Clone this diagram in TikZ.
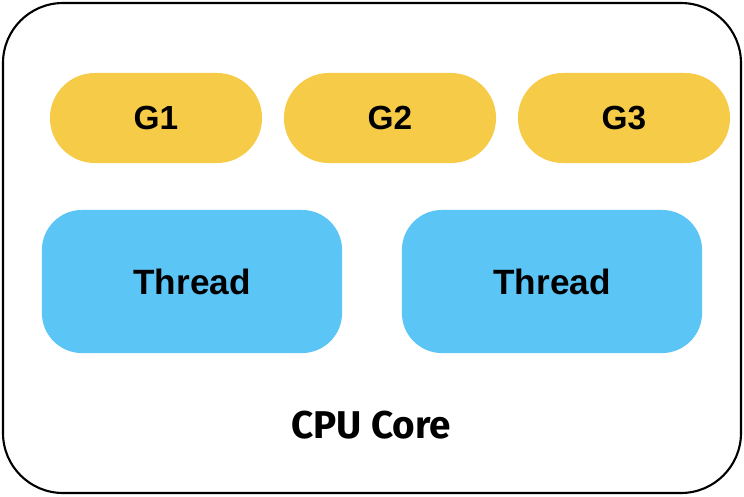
\documentclass[tikz,border=0pt]{standalone}
\usepackage{fontspec}
\setmainfont{Liberation Sans}
\newfontfamily\labelfont{Fira Sans}
\usepackage{tikz}
\definecolor{gold}{HTML}{F6CB47}
\definecolor{sky}{HTML}{5BC5F5}
\tikzset{gbox/.style={fill=gold, rounded corners=0.45cm, minimum width=2.12cm,
    minimum height=0.9cm, font=\fontsize{9.5}{11}\selectfont\bfseries},
  threadbox/.style={fill=sky, rounded corners=0.4cm, minimum width=3cm,
    minimum height=1.43cm, font=\fontsize{10}{12}\selectfont\bfseries}
}

\begin{document}
\begin{tikzpicture}[x=0.01cm, y=-0.01cm]
      \useasboundingbox (0,0) rectangle (744,496);
      \draw[line width=0.6pt, rounded corners=0.6cm] (3,3) rectangle (741,493);
      \node[gbox] (g1) at (156,118) {G1};
      \node[gbox] (g2) at (390,118) {G2};
      \node[gbox] (g3) at (624,118) {G3};
      \node[threadbox] (t1) at (192,281.5) {Thread};
      \node[threadbox] (t2) at (552,281.5) {Thread};
      \node[font=\labelfont\fontsize{11}{13}\selectfont\bfseries] (core) at (371,425) {CPU Core};
    \end{tikzpicture}
\end{document}
